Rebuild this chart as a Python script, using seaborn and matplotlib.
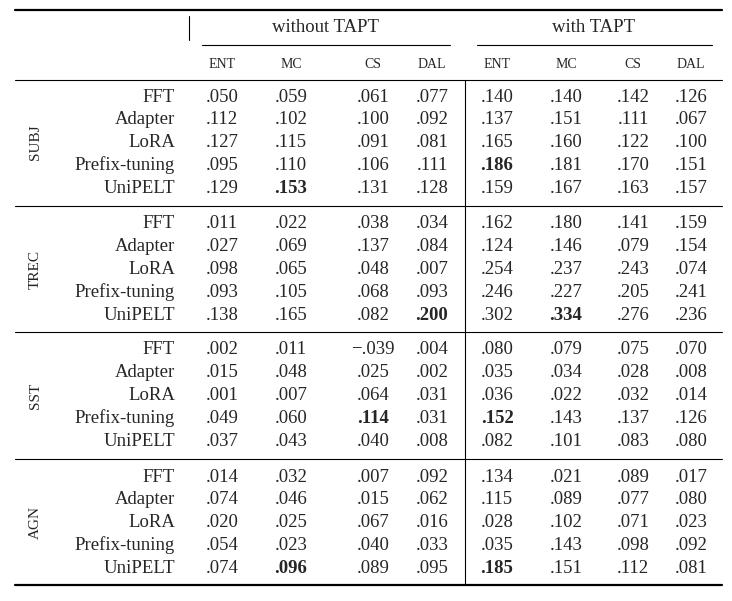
import matplotlib
matplotlib.use("Agg")
import matplotlib.pyplot as plt
import seaborn as sns

sns.set_theme(style="white")
plt.rcParams["font.family"] = "serif"
plt.rcParams["font.serif"] = ["Liberation Serif", "DejaVu Serif"]

# ---- table data ----
groups = ["SUBJ", "TREC", "SST", "AGN"]
methods = ["FFT", "Adapter", "LoRA", "Prefix-tuning", "UniPELT"]
metrics = ["ENT", "MC", "CS", "DAL"]
settings = ["without TAPT", "with TAPT"]

subj = [[.050, .059, .061, .077, .140, .140, .142, .126],
        [.112, .102, .100, .092, .137, .151, .111, .067],
        [.127, .115, .091, .081, .165, .160, .122, .100],
        [.095, .110, .106, .111, .186, .181, .170, .151],
        [.129, .153, .131, .128, .159, .167, .163, .157]]
trec = [[.011, .022, .038, .034, .162, .180, .141, .159],
        [.027, .069, .137, .084, .124, .146, .079, .154],
        [.098, .065, .048, .007, .254, .237, .243, .074],
        [.093, .105, .068, .093, .246, .227, .205, .241],
        [.138, .165, .082, .200, .302, .334, .276, .236]]
sst = [[.002, .011, -.039, .004, .080, .079, .075, .070],
       [.015, .048, .025, .002, .035, .034, .028, .008],
       [.001, .007, .064, .031, .036, .022, .032, .014],
       [.049, .060, .114, .031, .152, .143, .137, .126],
       [.037, .043, .040, .008, .082, .101, .083, .080]]
agn = [[.014, .032, .007, .092, .134, .021, .089, .017],
       [.074, .046, .015, .062, .115, .089, .077, .080],
       [.020, .025, .067, .016, .028, .102, .071, .023],
       [.054, .023, .040, .033, .035, .143, .098, .092],
       [.074, .096, .089, .095, .185, .151, .112, .081]]
tables = [subj, trec, sst, agn]

# (group, row, col) of bold cells
bold_cells = [(0, 4, 1), (0, 3, 4), (1, 4, 3), (1, 4, 5),
              (2, 3, 2), (2, 3, 4), (3, 4, 1), (3, 4, 4)]

# ---- layout (pixel space) ----
col_x = [222, 291, 373, 432, 497, 566, 633, 691]
group_top = [97, 224, 350, 477]
row_step = 22.8


def fmt(v):
    s = f"{abs(v):.3f}".lstrip("0")
    return ("\u2212" + s) if v < 0 else s


fig = plt.figure(figsize=(7.32, 6.01), dpi=100)
ax = fig.add_axes([0, 0, 1, 1])
ax.set_xlim(0, 732)
ax.set_ylim(601, 0)
ax.axis("off")

fs = 13.5
ax.text(326, 28, settings[0], ha="center", va="center", fontsize=fs)
ax.text(594, 28, settings[1], ha="center", va="center", fontsize=fs)
ax.plot([202, 450], [45, 45], color="black", lw=0.8)
ax.plot([477, 712], [45, 45], color="black", lw=0.8)
for i, x in enumerate(col_x):
    ax.text(x, 64, metrics[i % 4], ha="center", va="center", fontsize=10)

ax.plot([15, 722], [10, 10], color="black", lw=1.6)
ax.plot([15, 722], [585, 585], color="black", lw=1.6)
ax.plot([189, 189], [16, 40], color="black", lw=0.8)
for y in [80, 206, 332, 459]:
    ax.plot([15, 722], [y, y], color="black", lw=0.8)
ax.plot([465, 465], [80, 585], color="black", lw=0.8)

for g, name in enumerate(groups):
    y0 = group_top[g]
    ax.text(35, y0 + 2 * row_step, name, rotation=90, ha="center",
            va="center", fontsize=11)
    for r, m in enumerate(methods):
        y = y0 + r * row_step
        ax.text(175, y, m, ha="right", va="center", fontsize=fs)
        for c, v in enumerate(tables[g][r]):
            w = "bold" if (g, r, c) in bold_cells else "normal"
            ax.text(col_x[c], y, fmt(v), ha="center", va="center",
                    fontsize=fs, fontweight=w)

fig.savefig("out.png", dpi=100)
